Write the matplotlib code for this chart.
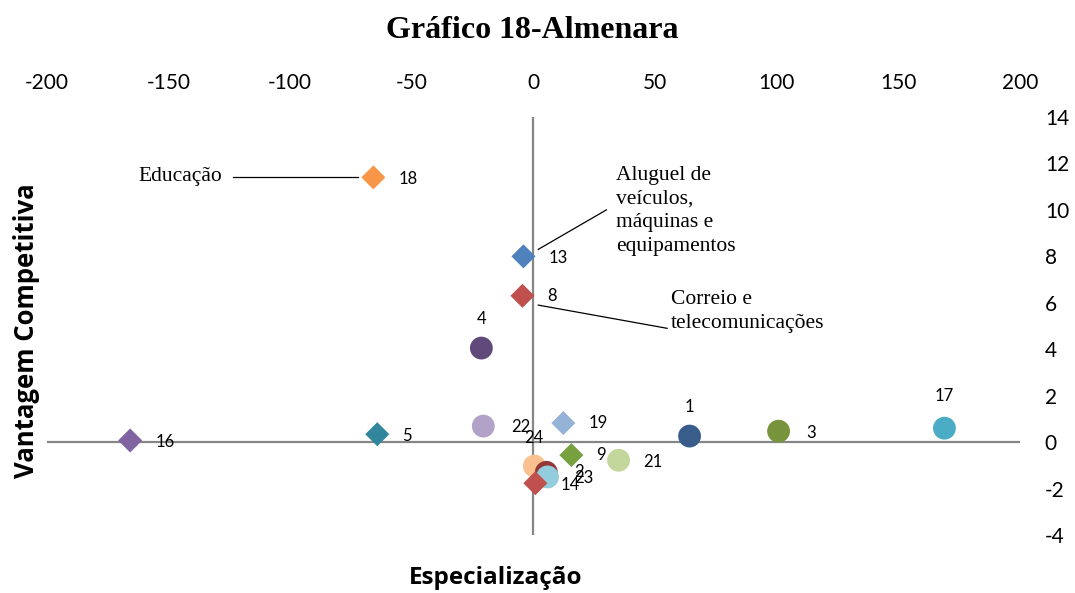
import matplotlib
matplotlib.use("Agg")
import matplotlib.pyplot as plt

plt.rcParams['axes.unicode_minus'] = False

# sector number, especialização (x), vantagem competitiva (y)
labels = ['18', '13', '8', '16', '5', '19', '9', '14']
x_diamond = [-65.8, -4.1, -4.5, -165.8, -64.2, 12.3, 15.6, 0.8]
y_diamond = [11.4, 8.0, 6.3, 0.07, 0.34, 0.82, -0.56, -1.77]
c_diamond = ['#F79646', '#4F81BD', '#C0504D', '#8064A2', '#31859C', '#95B3D7', '#77A03F', '#C0504D']

labels_c = ['4', '22', '24', '21', '2', '23', '1', '3', '17']
x_circle = [-21.4, -20.6, 0.4, 35.0, 5.3, 5.8, 64.2, 100.8, 169.0]
y_circle = [4.05, 0.69, -1.03, -0.78, -1.3, -1.5, 0.26, 0.47, 0.6]
c_circle = ['#604A7B', '#B3A2C7', '#FAC090', '#C3D69B', '#953735', '#93CDDD', '#385D8A', '#77933C', '#4BACC6']

# label offsets in points (dx, dy) from each marker
off_d = {'18': (18, -1), '13': (18, -1), '8': (18, 0), '16': (18, -1), '5': (18, -1),
         '19': (18, 0), '9': (18, 0), '14': (18, -1)}
off_c = {'4': (0, 21), '22': (20, -1), '24': (-7, 20), '21': (18, -1), '2': (20, 0),
         '23': (19, -1), '1': (0, 21), '3': (20, -1), '17': (0, 23)}

fig = plt.figure(figsize=(10.75, 5.93), dpi=100)
ax = fig.add_axes([0.0437, 0.0978, 0.905, 0.7049])

ax.axhline(0, color='#868686', lw=1.6, zorder=1)
ax.axvline(0, color='#868686', lw=1.6, zorder=1)

ax.scatter(x_circle, y_circle, s=270, c=c_circle, marker='o', zorder=3, linewidths=0)
ax.scatter(x_diamond, y_diamond, s=150, c=c_diamond, marker='D', zorder=4, linewidths=0)

num_font = dict(family=['Lato', 'DejaVu Sans'], fontsize=12, color='black')
for lb, xv, yv in zip(labels, x_diamond, y_diamond):
    dx, dy = off_d[lb]
    ax.annotate(lb, (xv, yv), xytext=(dx, dy), textcoords='offset points',
                ha='left', va='center', **num_font)
for lb, xv, yv in zip(labels_c, x_circle, y_circle):
    dx, dy = off_c[lb]
    ha = 'center' if dx == 0 else 'left'
    ax.annotate(lb, (xv, yv), xytext=(dx, dy), textcoords='offset points',
                ha=ha, va='center', **num_font)

# callouts
serif = dict(family='Liberation Serif', fontsize=15.5)
ax.text(-128, 11.45, 'Educação', ha='right', va='center', **serif)
ax.plot([-123.5, -72], [11.4, 11.4], color='black', lw=0.9)
ax.text(34, 11.9, 'Aluguel de\nveículos,\nmáquinas e\nequipamentos', ha='left', va='top',
        linespacing=1.33, **serif)
ax.plot([2, 30], [8.3, 10.0], color='black', lw=0.9)
ax.text(56.5, 6.55, 'Correio e\ntelecomunicações', ha='left', va='top', linespacing=1.33, **serif)
ax.plot([2, 55], [5.9, 4.9], color='black', lw=0.9)

ax.set_xlim(-200, 200)
ax.set_ylim(-4, 14)
ax.set_xticks(range(-200, 201, 50))
ax.set_yticks(range(-4, 15, 2))
ax.xaxis.tick_top()
ax.yaxis.tick_right()
ax.tick_params(axis='x', length=0, pad=17, labelsize=15)
ax.tick_params(axis='y', length=0, pad=18, labelsize=15)
for t in ax.get_xticklabels() + ax.get_yticklabels():
    t.set_family(['Lato', 'DejaVu Sans'])
for s in ax.spines.values():
    s.set_visible(False)

fig.text(0.495, 0.949, 'Gráfico 18-Almenara', ha='center', va='center',
         family='Liberation Serif', fontweight='bold', fontsize=23)
fig.text(0.461, 0.025, 'Especialização', ha='center', va='center',
         family=['Open Sans', 'DejaVu Sans'], fontweight='bold', fontsize=17.5)
fig.text(0.025, 0.443, 'Vantagem Competitiva', ha='center', va='center', rotation=90,
         family=['Open Sans', 'DejaVu Sans'], fontweight='bold', fontsize=18.5)

fig.savefig('out.png', dpi=100)
